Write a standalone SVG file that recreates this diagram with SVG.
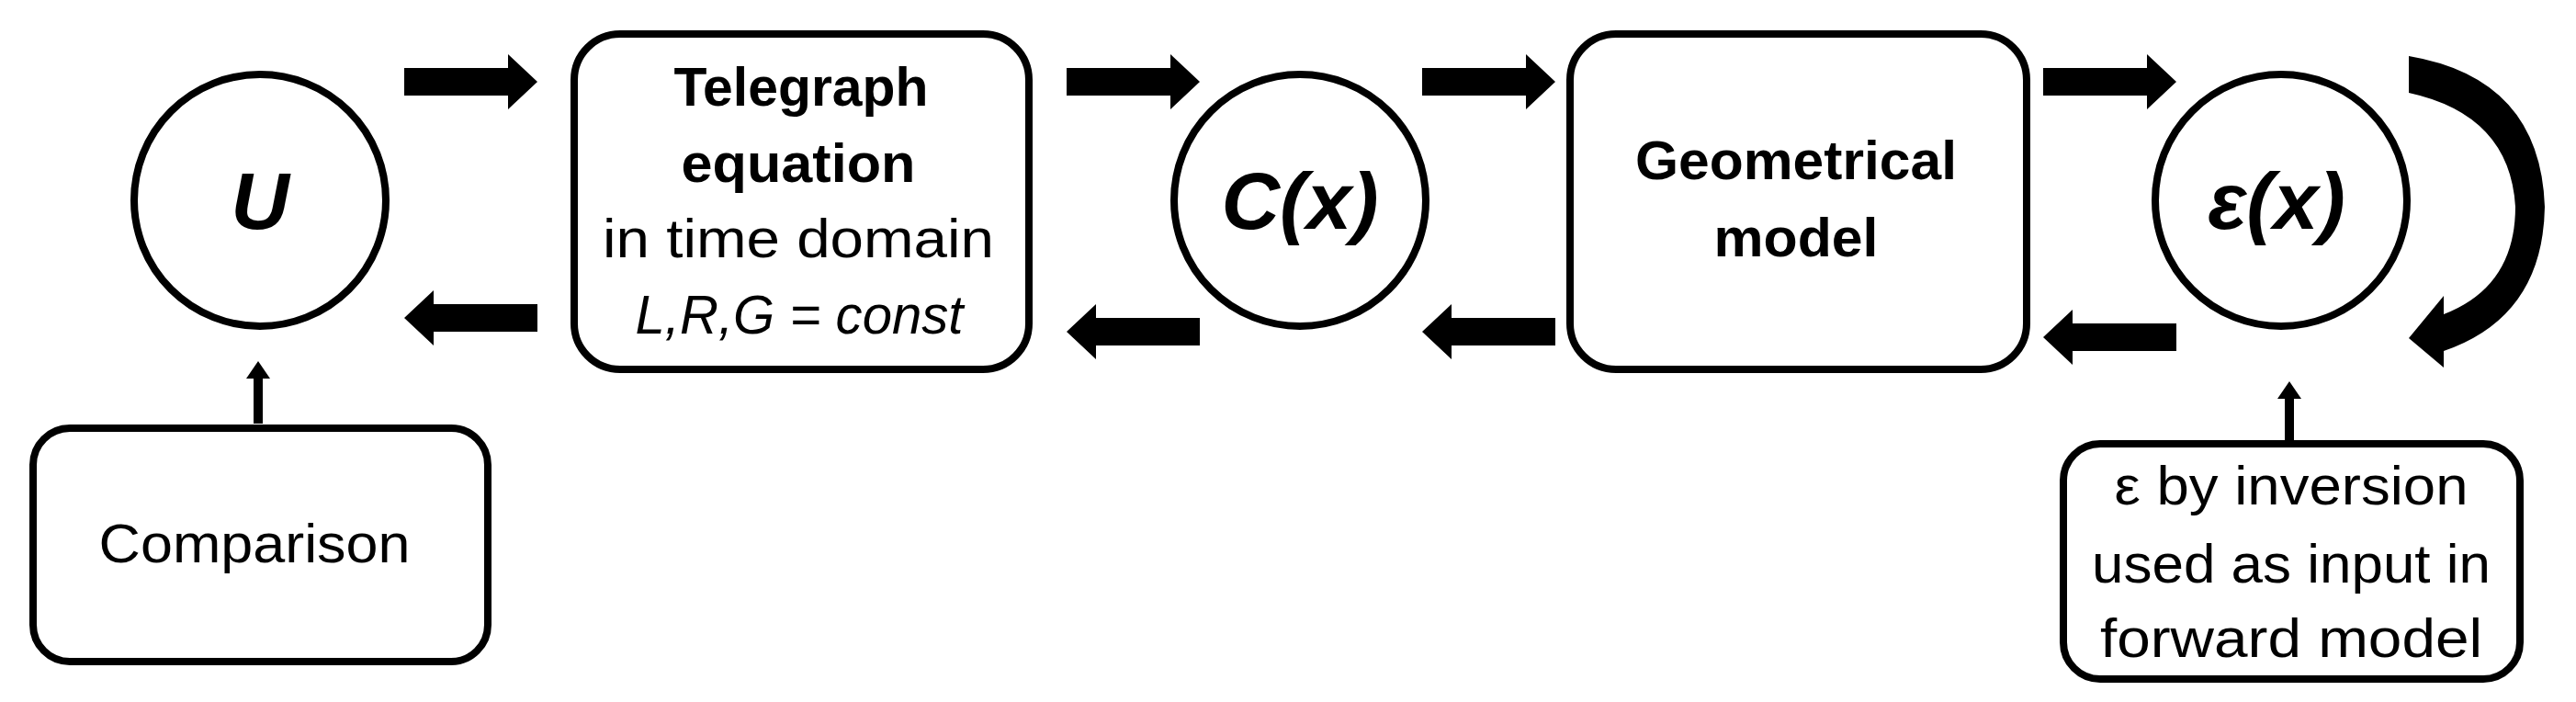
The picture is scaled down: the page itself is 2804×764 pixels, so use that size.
<svg xmlns="http://www.w3.org/2000/svg" width="2804" height="764" viewBox="0 0 2804 764">
<style>
.n{fill:#fff;stroke:#000;stroke-width:8}
.t{font-family:"Liberation Sans","Open Sans",sans-serif;font-size:60px;text-anchor:middle;fill:#000}
.b{font-weight:bold}
.i{font-style:italic}
.c{font-family:"Liberation Sans",sans-serif;font-size:88px;font-weight:bold;font-style:italic;text-anchor:middle}
.a{fill:#000}
</style>
<defs>
<path id="ar" d="M0,-15 L113,-15 L113,-30 L145,0 L113,30 L113,15 L0,15 Z"/>
<path id="al" d="M145,-15 L32,-15 L32,-30 L0,0 L32,30 L32,15 L145,15 Z"/>
</defs>
<rect width="2804" height="764" fill="#fff"/>
<g id="U"><circle class="n" cx="283" cy="218" r="137"/><text class="c" x="283" y="249">U</text></g>
<g id="telegraph"><rect class="n" x="625" y="37" width="495" height="365" rx="50"/>
<text class="t b" x="872" y="115" textLength="277" lengthAdjust="spacingAndGlyphs">Telegraph</text>
<text class="t b" x="869" y="198" textLength="255" lengthAdjust="spacingAndGlyphs">equation</text>
<text class="t" x="869" y="280" textLength="426" lengthAdjust="spacingAndGlyphs">in time domain</text>
<text class="t i" x="870" y="363" textLength="357" lengthAdjust="spacingAndGlyphs">L,R,G = const</text></g>
<g id="C"><circle class="n" cx="1415" cy="218" r="137"/><text class="c" x="1415" y="249">C(x)</text></g>
<g id="geom"><rect class="n" x="1709" y="37" width="497" height="365" rx="50"/>
<text class="t b" x="1955" y="195" textLength="350" lengthAdjust="spacingAndGlyphs">Geometrical</text>
<text class="t b" x="1955" y="279" textLength="179" lengthAdjust="spacingAndGlyphs">model</text></g>
<g id="eps"><circle class="n" cx="2483" cy="218" r="137"/><text class="c" x="2478" y="249">ε(x)</text></g>
<g id="comparison"><rect class="n" x="36" y="466" width="495" height="254" rx="40"/>
<text class="t" x="277" y="612" textLength="339" lengthAdjust="spacingAndGlyphs">Comparison</text></g>
<g id="inversion"><rect class="n" x="2246" y="483" width="497" height="256" rx="40"/>
<text class="t" x="2494" y="549" textLength="385" lengthAdjust="spacingAndGlyphs">ε by inversion</text>
<text class="t" x="2494" y="634" textLength="434" lengthAdjust="spacingAndGlyphs">used as input in</text>
<text class="t" x="2494" y="715" textLength="416" lengthAdjust="spacingAndGlyphs">forward model</text></g>
<g id="connectors" class="a">
<use href="#ar" x="440" y="89"/>
<use href="#ar" x="1161" y="89"/>
<use href="#ar" x="1548" y="89"/>
<use href="#ar" x="2224" y="89"/>
<use href="#al" x="440" y="346"/>
<use href="#al" x="1161" y="361"/>
<use href="#al" x="1548" y="361"/>
<use href="#al" x="2224" y="367"/>
<path d="M276,461 L276,412 L268,412 L281,393 L294,412 L286,412 L286,461 Z"/>
<path d="M2487,483 L2487,434 L2479,434 L2492,415 L2505,434 L2497,434 L2497,483 Z"/>
<path d="M2622,61 L2622,101 Q2732,125 2738,225 Q2738,312 2660,342 L2660,322 L2622,368 L2660,400 L2660,382 Q2768,345 2770,225 Q2765,85 2622,61 Z"/>
</g>
</svg>
